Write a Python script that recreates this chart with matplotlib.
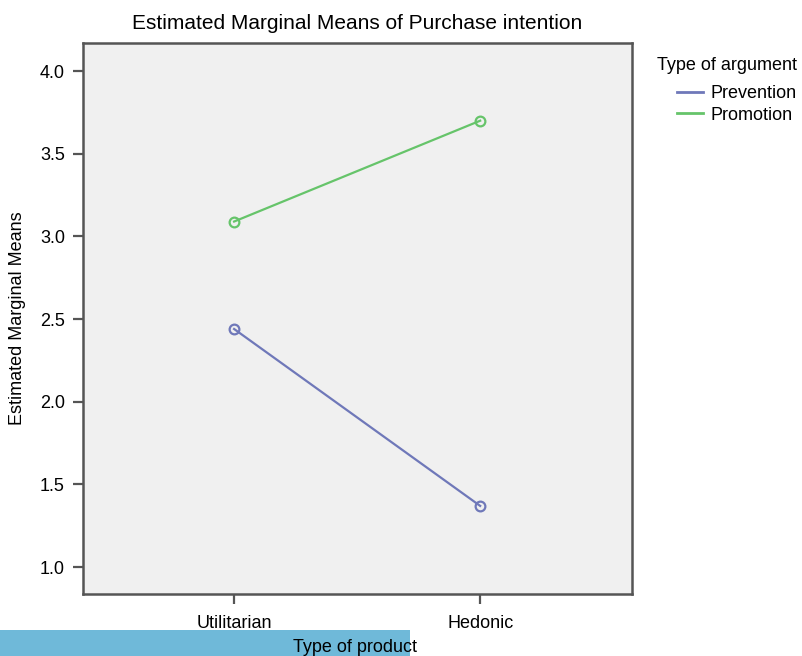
import matplotlib.pyplot as plt
from matplotlib.lines import Line2D
from matplotlib.patches import Rectangle

plt.rcParams['font.family'] = ['Liberation Sans', 'DejaVu Sans']

product_types = ["Utilitarian", "Hedonic"]
prevention = [2.44, 1.37]
promotion = [3.09, 3.70]
y_ticks = [1.0, 1.5, 2.0, 2.5, 3.0, 3.5, 4.0]

blue = "#6f78b9"
green = "#66c46a"
frame = "#555555"

fig = plt.figure(figsize=(8.02, 6.56), dpi=100)
ax = fig.add_axes([83 / 802, 1 - 594 / 656, (632 - 83) / 802, (594 - 43) / 656])
ax.set_facecolor("#f0f0f0")

x = list(range(len(product_types)))
ax.plot(x, prevention, color=blue, lw=1.6, marker="o", ms=7, mfc="none", mew=1.6)
ax.plot(x, promotion, color=green, lw=1.6, marker="o", ms=7, mfc="none", mew=1.6)

ax.set_xlim(-0.614, 1.617)
ax.set_ylim(0.837, 4.17)
ax.set_xticks(x)
ax.set_xticklabels(product_types)
ax.set_yticks(y_ticks)
ax.set_yticklabels([f"{v:.1f}" for v in y_ticks])
ax.tick_params(axis="both", labelsize=13, color=frame, width=1.6, length=7, pad=6)
ax.tick_params(axis="x", pad=8)

for side in ["left", "bottom", "top", "right"]:
    ax.spines[side].set_color(frame)
    ax.spines[side].set_linewidth(1.8)

ax.set_ylabel("Estimated Marginal Means", fontsize=13, labelpad=10)
ax.set_title("Estimated Marginal Means of Purchase intention", fontsize=15, pad=10)

# strip behind the x-axis caption
fig.patches.append(Rectangle((0, 0), 410 / 802, 26 / 656, transform=fig.transFigure,
                             facecolor="#6fb9d9", edgecolor="none", zorder=0))
fig.text(355 / 802, 9 / 656, "Type of product", fontsize=13, ha="center", va="center")

# legend: heading plus indented line entries
fig.text(657 / 802, 1 - 65 / 656, "Type of argument", fontsize=13, ha="left", va="center")
handles = [Line2D([], [], color=blue, lw=2), Line2D([], [], color=green, lw=2)]
fig.legend(handles, ["Prevention", "Promotion"], loc="upper left",
           bbox_to_anchor=(677 / 802, 1 - 85 / 656), frameon=False, fontsize=13,
           handlelength=1.45, handletextpad=0.4, labelspacing=0.25,
           borderpad=0, borderaxespad=0)

fig.savefig("out.png", dpi=100)
